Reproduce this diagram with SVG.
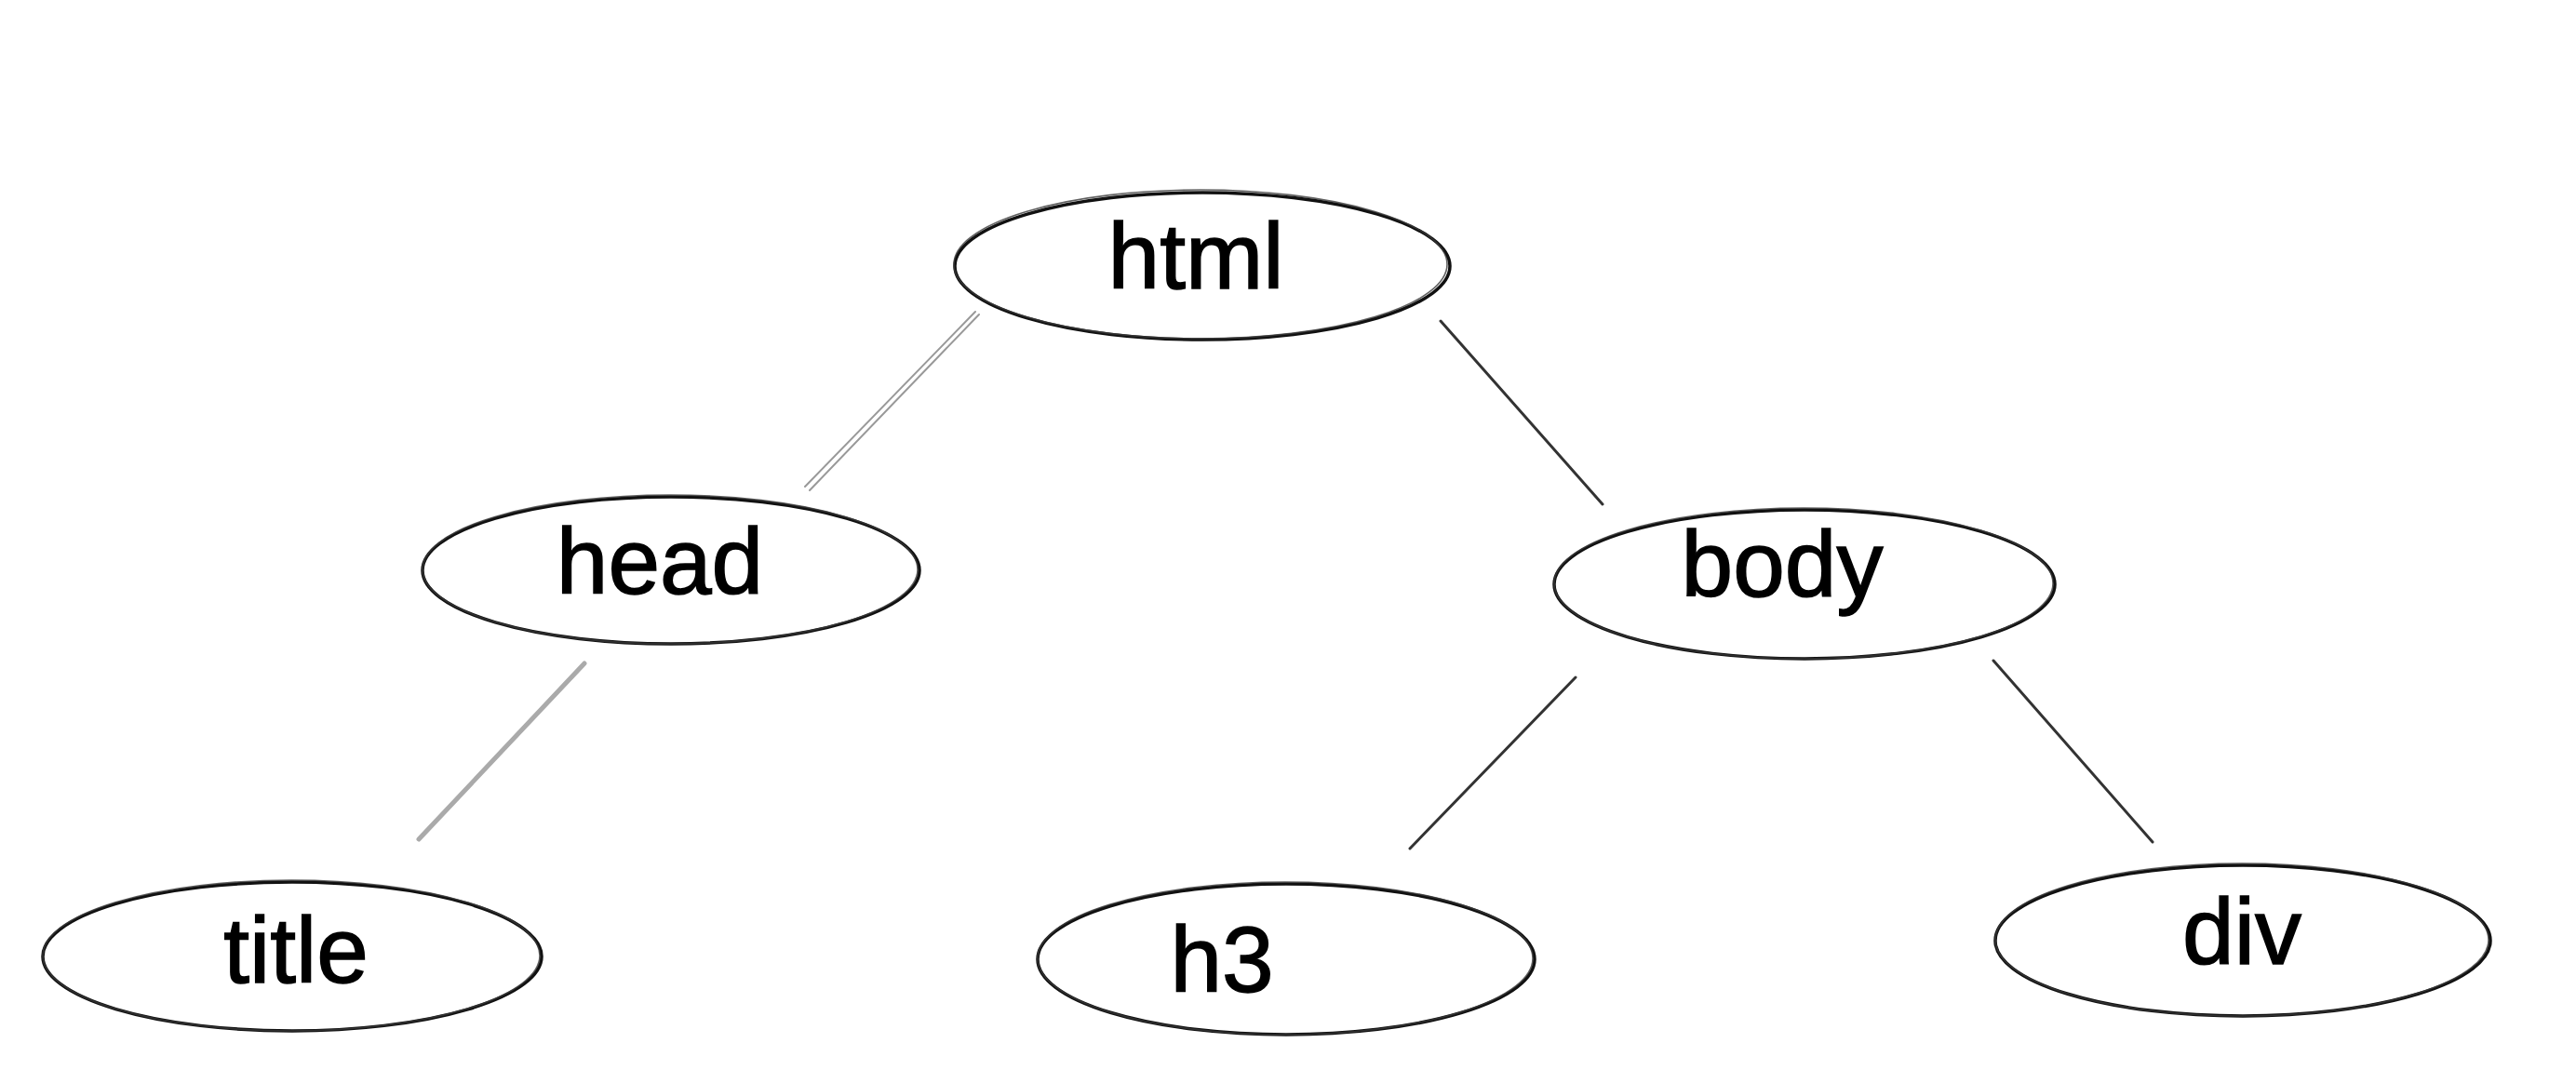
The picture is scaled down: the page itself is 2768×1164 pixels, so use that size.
<svg xmlns="http://www.w3.org/2000/svg" width="2768" height="1164" viewBox="0 0 2768 1164">
<style>
.bg{fill:#ffffff}
.ol{fill:none;stroke:#111;stroke-width:3.5}
.ol2{fill:none;stroke:#3a3a3a;stroke-width:1.6;opacity:0.8}
.lbl{font-family:"Liberation Sans","DejaVu Sans",sans-serif;font-size:100px;fill:#000;stroke:#000;stroke-width:1.5;text-anchor:middle}
.edge{stroke:#333;stroke-width:3;stroke-linecap:round;fill:none}
.edge-light{stroke:#999;stroke-width:2;stroke-linecap:round;fill:none}
.edge-gray{stroke:#aaaaaa;stroke-width:5;stroke-linecap:round;fill:none}
</style>
<rect class="bg" x="0" y="0" width="2768" height="1164"/>
<g id="connectors">
  <line class="edge-light" x1="1048" y1="335" x2="865" y2="523"/>
  <line class="edge-light" x1="1052" y1="338" x2="870" y2="527"/>
  <line class="edge" x1="1548" y1="345" x2="1722" y2="542"/>
  <line class="edge-gray" x1="628" y1="713" x2="450" y2="902"/>
  <line class="edge" x1="1693" y1="728" x2="1515" y2="912"/>
  <line class="edge" x1="2142" y1="710" x2="2313" y2="905"/>
</g>
<g id="node-html">
  <ellipse class="ol" cx="1292" cy="286" rx="266" ry="79"/>
  <ellipse class="ol2" cx="1290" cy="284" rx="265" ry="80"/>
  <text class="lbl" x="1285" y="310">html</text>
</g>
<g id="node-head">
  <ellipse class="ol" cx="721" cy="613" rx="267" ry="79"/>
  <ellipse class="ol2" cx="720" cy="612" rx="266" ry="80"/>
  <text class="lbl" x="709" y="638">head</text>
</g>
<g id="node-body">
  <ellipse class="ol" cx="1939" cy="628" rx="269" ry="80"/>
  <ellipse class="ol2" cx="1938" cy="627" rx="268" ry="81"/>
  <text class="lbl" x="1915" y="641">body</text>
</g>
<g id="node-title">
  <ellipse class="ol" cx="314" cy="1028" rx="268" ry="80"/>
  <ellipse class="ol2" cx="313" cy="1027" rx="267" ry="81"/>
  <text class="lbl" x="318" y="1056">title</text>
</g>
<g id="node-h3">
  <ellipse class="ol" cx="1382" cy="1031" rx="267" ry="81"/>
  <ellipse class="ol2" cx="1381" cy="1030" rx="266" ry="82"/>
  <text class="lbl" x="1313" y="1066">h3</text>
</g>
<g id="node-div">
  <ellipse class="ol" cx="2410" cy="1011" rx="266" ry="81"/>
  <ellipse class="ol2" cx="2409" cy="1010" rx="265" ry="82"/>
  <text class="lbl" x="2409" y="1036">div</text>
</g>
</svg>
